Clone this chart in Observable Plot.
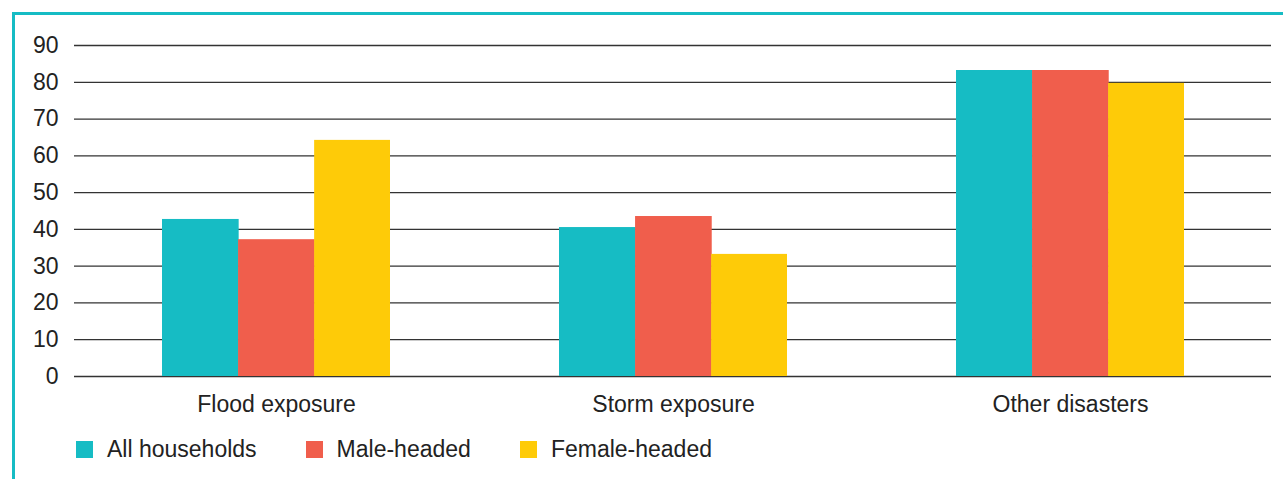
<!DOCTYPE html>
<html>
<head>
<meta charset="utf-8">
<script src="https://cdn.jsdelivr.net/npm/d3@7"></script>
<script src="https://cdn.jsdelivr.net/npm/@observablehq/plot@0.6"></script>
<style>
  html, body { margin: 0; padding: 0; background: #fff; }
  body { width: 1283px; height: 479px; position: relative; overflow: hidden; font-family: "Liberation Sans", Arial, sans-serif; }
  #frame { position: absolute; left: 12px; top: 12px; width: 1300px; height: 500px; border-top: 3px solid #16bcc4; border-left: 3px solid #16bcc4; box-sizing: border-box; }
  #chart { position: absolute; left: 0; top: 0; }
  #legend { position: absolute; left: 76px; top: 441px; display: flex; font-size: 23px; color: #222; }
  .item { display: flex; align-items: center; height: 17px; margin-right: 49px; }
  .sw { width: 17px; height: 17px; margin-right: 14px; flex: none; }
</style>
</head>
<body>
<div id="frame"></div>
<div id="chart"></div>
<div id="legend"></div>
<script>
const categories = ["Flood exposure", "Storm exposure", "Other disasters"];
const series = ["All households", "Male-headed", "Female-headed"];
const allHouseholds = [42.7, 40.5, 83.2];
const maleHeaded = [37.2, 43.5, 83.2];
const femaleHeaded = [64.2, 33.2, 79.7];
const colors = ["#16bcc4", "#f05e4c", "#fecb08"];
const yTicks = [0, 10, 20, 30, 40, 50, 60, 70, 80, 90];

const W = 1283, H = 426;
const mL = 74, mR = 12, mT = 45, mB = 50;
const padIn = 0.4257, padOut = 0.219;
const step = (W - mL - mR) / (categories.length - padIn + 2 * padOut);
const bw = step * (1 - padIn) / series.length;

const valueSets = [allHouseholds, maleHeaded, femaleHeaded];
const bars = valueSets.map((vals, i) =>
  Plot.barY(categories.map((c, k) => ({category: c, value: vals[k]})), {
    x: "category", y: "value", fill: colors[i],
    insetLeft: i * bw, insetRight: Math.max(0, (series.length - 1 - i) * bw - 0.8)
  })
);

const chart = Plot.plot({
  width: W, height: H,
  marginLeft: mL, marginRight: mR, marginTop: mT, marginBottom: mB,
  style: {fontFamily: "Liberation Sans, Arial, sans-serif", fontSize: "23px", color: "#222", background: "transparent"},
  x: {domain: categories, paddingInner: padIn, paddingOuter: padOut, tickSize: 0, tickPadding: 19, label: null},
  y: {domain: [0, 90], ticks: yTicks, tickSize: 0, tickPadding: 16, label: null},
  marks: [
    Plot.ruleY(yTicks, {stroke: "#333", strokeWidth: 1.3}),
    ...bars
  ]
});
document.getElementById("chart").appendChild(chart);

const legend = document.getElementById("legend");
series.forEach((s, i) => {
  const item = document.createElement("div");
  item.className = "item";
  const sw = document.createElement("div");
  sw.className = "sw";
  sw.style.background = colors[i];
  const t = document.createElement("span");
  t.textContent = s;
  item.appendChild(sw);
  item.appendChild(t);
  legend.appendChild(item);
});
</script>
</body>
</html>
